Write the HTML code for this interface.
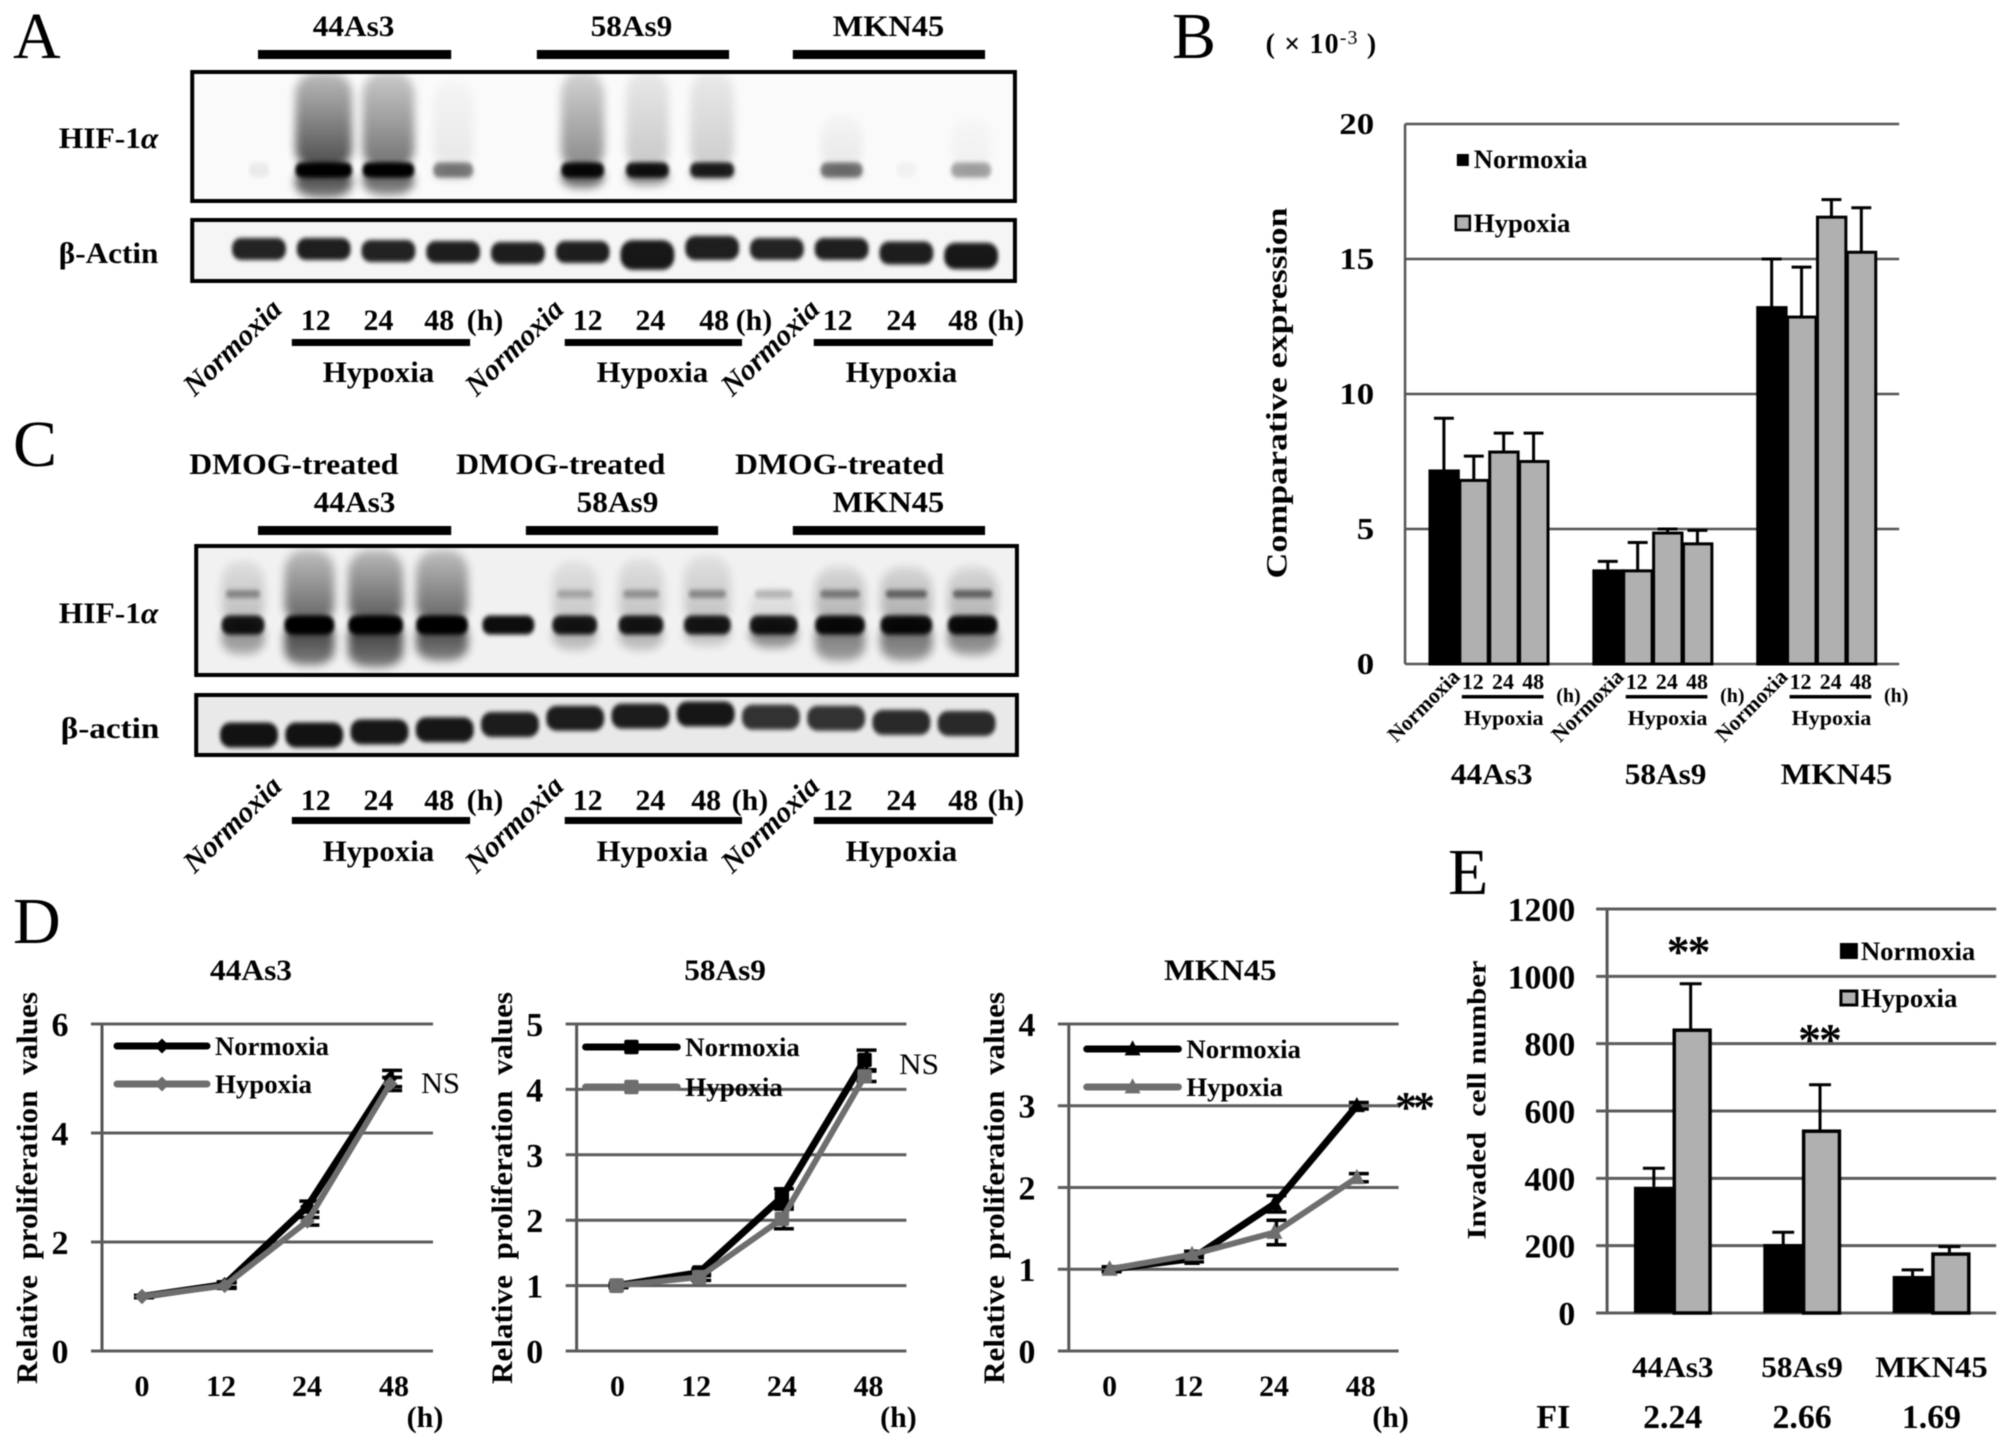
<!DOCTYPE html>
<html lang="en">
<head>
<meta charset="utf-8">
<title>HIF-1α expression, proliferation and invasion figure</title>
<style>
html,body{margin:0;padding:0;background:#fff;width:2008px;height:1443px;overflow:hidden}
svg{display:block;filter:blur(0.4px)}
text{font-family:"Liberation Serif",serif;fill:#000}
.b{font-weight:700}
.letter{font-size:66px}
.t30{font-size:30px;font-weight:700}
.t26{font-size:26px;font-weight:700}
.t34{font-size:34px;font-weight:700}
.ni{font-size:30px;font-weight:700;font-style:italic}
.nb{font-size:22px;font-weight:700}
</style>
</head>
<body>
<svg id="figure" xmlns="http://www.w3.org/2000/svg" width="2008" height="1443" viewBox="0 0 2008 1443">
<defs>
<filter id="blur5" x="-50%" y="-50%" width="200%" height="200%"><feGaussianBlur stdDeviation="4.5"/></filter>
<filter id="blur2" x="-50%" y="-100%" width="200%" height="300%"><feGaussianBlur stdDeviation="2"/></filter>
<linearGradient id="fade-up" x1="0" y1="0" x2="0" y2="1"><stop offset="0" stop-color="#000" stop-opacity="0.35"/><stop offset="1" stop-color="#000" stop-opacity="1"/></linearGradient>
<linearGradient id="fade-down" x1="0" y1="0" x2="0" y2="1"><stop offset="0" stop-color="#000" stop-opacity="1"/><stop offset="1" stop-color="#000" stop-opacity="0.6"/></linearGradient>
<clipPath id="clip-a-hif"><rect x="191" y="70" width="830" height="133"/></clipPath>
<clipPath id="clip-a-actin"><rect x="191" y="218" width="830" height="65"/></clipPath>
<clipPath id="clip-c-hif"><rect x="195" y="544" width="828" height="133"/></clipPath>
<clipPath id="clip-c-actin"><rect x="195" y="693" width="828" height="64"/></clipPath>
</defs>
<rect width="2008" height="1443" fill="#fff"/>

<text class="letter" x="13" y="58">A</text>
<text class="letter" x="1172" y="58">B</text>
<text class="letter" x="13" y="466">C</text>
<text class="letter" x="13" y="943">D</text>
<text class="letter" x="1448" y="894">E</text>

<g transform="scale(0.996,1)">
<text class="t30" x="355" y="36" text-anchor="middle" textLength="82" lengthAdjust="spacingAndGlyphs">44As3</text>
<text class="t30" x="634" y="36" text-anchor="middle" textLength="82" lengthAdjust="spacingAndGlyphs">58As9</text>
<text class="t30" x="892" y="36" text-anchor="middle" textLength="112" lengthAdjust="spacingAndGlyphs">MKN45</text>
<rect x="259" y="50" width="194" height="9"/>
<rect x="539" y="50" width="193" height="9"/>
<rect x="796" y="50" width="193" height="9"/>
<text class="t30" x="59" y="148" textLength="100" lengthAdjust="spacingAndGlyphs">HIF-1<tspan font-style="italic">α</tspan></text>
<text class="t30" x="59" y="263" textLength="100" lengthAdjust="spacingAndGlyphs">β-Actin</text>
<text class="ni" transform="translate(233,347) rotate(-44)" y="10" text-anchor="middle" textLength="124" lengthAdjust="spacingAndGlyphs">Normoxia</text>
<text class="ni" transform="translate(516,347) rotate(-44)" y="10" text-anchor="middle" textLength="124" lengthAdjust="spacingAndGlyphs">Normoxia</text>
<text class="ni" transform="translate(773,347) rotate(-44)" y="10" text-anchor="middle" textLength="124" lengthAdjust="spacingAndGlyphs">Normoxia</text>
<text class="t30" x="317" y="330" text-anchor="middle">12</text>
<text class="t30" x="380" y="330" text-anchor="middle">24</text>
<text class="t30" x="441" y="330" text-anchor="middle">48</text>
<text class="t30" x="487" y="330" text-anchor="middle">(h)</text>
<text class="t30" x="590" y="330" text-anchor="middle">12</text>
<text class="t30" x="653" y="330" text-anchor="middle">24</text>
<text class="t30" x="717" y="330" text-anchor="middle">48</text>
<text class="t30" x="757" y="330" text-anchor="middle">(h)</text>
<text class="t30" x="841" y="330" text-anchor="middle">12</text>
<text class="t30" x="905" y="330" text-anchor="middle">24</text>
<text class="t30" x="967" y="330" text-anchor="middle">48</text>
<text class="t30" x="1010" y="330" text-anchor="middle">(h)</text>
<rect x="293" y="339" width="179" height="7"/>
<rect x="567" y="339" width="178" height="7"/>
<rect x="817" y="339" width="180" height="7"/>
<text class="t30" x="380" y="382" text-anchor="middle" textLength="112" lengthAdjust="spacingAndGlyphs">Hypoxia</text>
<text class="t30" x="655" y="382" text-anchor="middle" textLength="112" lengthAdjust="spacingAndGlyphs">Hypoxia</text>
<text class="t30" x="905" y="382" text-anchor="middle" textLength="112" lengthAdjust="spacingAndGlyphs">Hypoxia</text>
</g>

<g transform="scale(0.996,1)">
<text class="t30" x="295" y="474" text-anchor="middle" textLength="210" lengthAdjust="spacingAndGlyphs">DMOG-treated</text>
<text class="t30" x="563" y="474" text-anchor="middle" textLength="210" lengthAdjust="spacingAndGlyphs">DMOG-treated</text>
<text class="t30" x="843" y="474" text-anchor="middle" textLength="210" lengthAdjust="spacingAndGlyphs">DMOG-treated</text>
<text class="t30" x="356" y="512" text-anchor="middle" textLength="82" lengthAdjust="spacingAndGlyphs">44As3</text>
<text class="t30" x="620" y="512" text-anchor="middle" textLength="82" lengthAdjust="spacingAndGlyphs">58As9</text>
<text class="t30" x="892" y="512" text-anchor="middle" textLength="112" lengthAdjust="spacingAndGlyphs">MKN45</text>
<rect x="259" y="526" width="194" height="9"/>
<rect x="528" y="526" width="193" height="9"/>
<rect x="796" y="526" width="193" height="9"/>
<text class="t30" x="59" y="623" textLength="100" lengthAdjust="spacingAndGlyphs">HIF-1<tspan font-style="italic">α</tspan></text>
<text class="t30" x="61" y="738" textLength="99" lengthAdjust="spacingAndGlyphs">β-actin</text>
<text class="ni" transform="translate(233,824) rotate(-44)" y="10" text-anchor="middle" textLength="124" lengthAdjust="spacingAndGlyphs">Normoxia</text>
<text class="ni" transform="translate(516,824) rotate(-44)" y="10" text-anchor="middle" textLength="124" lengthAdjust="spacingAndGlyphs">Normoxia</text>
<text class="ni" transform="translate(773,824) rotate(-44)" y="10" text-anchor="middle" textLength="124" lengthAdjust="spacingAndGlyphs">Normoxia</text>
<text class="t30" x="317" y="810" text-anchor="middle">12</text>
<text class="t30" x="380" y="810" text-anchor="middle">24</text>
<text class="t30" x="441" y="810" text-anchor="middle">48</text>
<text class="t30" x="487" y="810" text-anchor="middle">(h)</text>
<text class="t30" x="590" y="810" text-anchor="middle">12</text>
<text class="t30" x="653" y="810" text-anchor="middle">24</text>
<text class="t30" x="709" y="810" text-anchor="middle">48</text>
<text class="t30" x="753" y="810" text-anchor="middle">(h)</text>
<text class="t30" x="841" y="810" text-anchor="middle">12</text>
<text class="t30" x="905" y="810" text-anchor="middle">24</text>
<text class="t30" x="967" y="810" text-anchor="middle">48</text>
<text class="t30" x="1010" y="810" text-anchor="middle">(h)</text>
<rect x="293" y="817" width="179" height="7"/>
<rect x="567" y="817" width="178" height="7"/>
<rect x="817" y="817" width="180" height="7"/>
<text class="t30" x="380" y="861" text-anchor="middle" textLength="112" lengthAdjust="spacingAndGlyphs">Hypoxia</text>
<text class="t30" x="655" y="861" text-anchor="middle" textLength="112" lengthAdjust="spacingAndGlyphs">Hypoxia</text>
<text class="t30" x="905" y="861" text-anchor="middle" textLength="112" lengthAdjust="spacingAndGlyphs">Hypoxia</text>
</g>

<g id="blots" transform="scale(0.996,1)"></g>

<g id="panel-b" transform="translate(4.4,0) scale(0.9962,1)">
<text x="1266" y="53" font-size="28" font-weight="700" textLength="111" lengthAdjust="spacing">( × 10<tspan font-size="20" dy="-9" font-weight="400">-3</tspan><tspan dy="9"> )</tspan></text>
<text class="t30" transform="translate(1277,393) rotate(-90)" y="10" text-anchor="middle" textLength="371" lengthAdjust="spacingAndGlyphs">Comparative expression</text>
<rect x="1458" y="154" width="12" height="12"/>
<text class="t26" x="1475" y="168" textLength="114" lengthAdjust="spacingAndGlyphs">Normoxia</text>
<rect x="1457" y="216" width="14" height="14" fill="#b0b0b0" stroke="#000" stroke-width="2.5"/>
<text class="t26" x="1475" y="232" textLength="97" lengthAdjust="spacingAndGlyphs">Hypoxia</text>
</g>

<g id="panel-d">
<text x="421" y="1093" font-size="30" textLength="39" lengthAdjust="spacingAndGlyphs">NS</text>
<text x="899" y="1074" font-size="30" textLength="40" lengthAdjust="spacingAndGlyphs">NS</text>
<text x="1395" y="1122" font-size="44" font-weight="700" textLength="40" lengthAdjust="spacing">**</text>
</g>

<g id="panel-e" transform="translate(6.96,0) scale(0.9951,1)">
<text class="t26" transform="translate(1477,1100) rotate(-90)" y="9" text-anchor="middle" textLength="279" lengthAdjust="spacingAndGlyphs">Invaded&#160; cell number</text>
<rect x="1842" y="943" width="18" height="16"/>
<text class="t26" x="1863" y="960" textLength="115" lengthAdjust="spacingAndGlyphs">Normoxia</text>
<rect x="1843" y="991" width="16" height="14" fill="#b0b0b0" stroke="#000" stroke-width="3"/>
<text class="t26" x="1863" y="1007" textLength="97" lengthAdjust="spacingAndGlyphs">Hypoxia</text>
<text x="1668" y="967" font-size="46" font-weight="700" textLength="44" lengthAdjust="spacing">**</text>
<text x="1800" y="1055" font-size="46" font-weight="700" textLength="44" lengthAdjust="spacing">**</text>
<text class="t34" x="1554" y="1428" text-anchor="middle">FI</text>
</g>
</svg>

<script>
/* ---------- Panel B data ---------- */
const bCategories = ['44As3', '58As9', 'MKN45'];
const bHours = ['12', '24', '48'];
const bTicks = [0, 5, 10, 15, 20];
const bValues44 = [7.15, 6.8, 7.85, 7.5];
const bValues58 = [3.45, 3.45, 4.85, 4.45];
const bValuesMkn = [13.2, 12.85, 16.55, 15.25];
const bUpper44 = [9.1, 7.7, 8.55, 8.55];
const bUpper58 = [3.8, 4.5, 5.0, 4.95];
const bUpperMkn = [15.0, 14.7, 17.2, 16.9];

/* ---------- Panel D data ---------- */
const dHours = ['0', '12', '24', '48'];
const d1Ticks = [0, 2, 4, 6];
const d1Normoxia = [1, 1.22, 2.65, 5.0];
const d1Hypoxia = [1, 1.2, 2.38, 4.9];
const d1NormoxiaErr = [0.02, 0.05, 0.1, 0.15];
const d1HypoxiaErr = [0.02, 0.05, 0.07, 0.12];
const d2Ticks = [0, 1, 2, 3, 4, 5];
const d2Normoxia = [1, 1.2, 2.35, 4.45];
const d2Hypoxia = [1, 1.13, 2.02, 4.2];
const d2NormoxiaErr = [0.03, 0.05, 0.13, 0.15];
const d2HypoxiaErr = [0.03, 0.05, 0.15, 0.08];
const d3Ticks = [0, 1, 2, 3, 4];
const d3Normoxia = [1, 1.13, 1.8, 3.0];
const d3Hypoxia = [1, 1.18, 1.45, 2.12];
const d3NormoxiaErr = [0.03, 0.04, 0.1, 0.04];
const d3HypoxiaErr = [0.03, 0.04, 0.15, 0.05];

/* ---------- Panel E data ---------- */
const eCategories = ['44As3', '58As9', 'MKN45'];
const eFoldIncrease = ['2.24', '2.66', '1.69'];
const eTicks = [0, 200, 400, 600, 800, 1000, 1200];
const eNormoxia = [375, 205, 110];
const eHypoxia = [840, 540, 175];
const eNormoxiaUpper = [430, 240, 128];
const eHypoxiaUpper = [978, 678, 197];

/* ---------- Blot densitometry (relative darkness / extent per lane) ---------- */
const aHifBand = [0.06, 1, 1, 0.45, 0, 0.95, 0.9, 0.85, 0, 0.5, 0.03, 0.32];
const aHifUpper = [0, 0.7, 0.55, 0.07, 0, 0.45, 0.2, 0.18, 0, 0.07, 0, 0.04];
const aHifLower = [0, 0.8, 0.7, 0.2, 0, 0.75, 0.6, 0.45, 0, 0.2, 0.02, 0.08];
const aHifReachUp = [0, 1, 1, 0.9, 0, 1, 1, 1, 0, 0.55, 0, 0.55];
const aHifReachDown = [0, 1, 0.9, 0.35, 0, 0.65, 0.55, 0.35, 0, 0.35, 0, 0.35];
const aHifWidth = [0.4, 1.14, 1.04, 0.8, 0, 0.86, 0.86, 0.88, 0, 0.84, 0.4, 0.8];
const aActinBand = [0.86, 0.88, 0.86, 0.88, 0.88, 0.88, 0.9, 0.88, 0.86, 0.88, 0.88, 0.9];
const aActinDrift = [0, 0, 0.1, 0.15, 0.2, 0.15, 0.3, -0.05, 0, 0, 0.2, 0.35];
const aActinHeight = [1, 1, 1, 1, 1, 1, 1.35, 1.1, 1, 1, 1.05, 1.2];
const cHifBand = [0.9, 1, 1, 1, 0.95, 0.9, 0.9, 0.9, 0.9, 0.95, 0.95, 0.95];
const cHifUpper = [0.22, 0.6, 0.65, 0.6, 0, 0.18, 0.2, 0.2, 0.12, 0.28, 0.3, 0.28];
const cHifLower = [0.45, 0.78, 0.8, 0.75, 0, 0.3, 0.3, 0.25, 0.55, 0.55, 0.6, 0.55];
const cHifReachUp = [0.85, 1, 1, 1, 0, 0.85, 0.88, 0.92, 0.5, 0.78, 0.78, 0.78];
const cHifReachDown = [0.7, 0.95, 1, 0.85, 0, 0.6, 0.6, 0.5, 0.55, 0.85, 0.85, 0.72];
const cHifWidth = [0.86, 1, 1.1, 1.04, 1.04, 0.9, 0.9, 0.94, 0.96, 1, 1.04, 1];
const cHifDoublet = [0.35, 0, 0, 0, 0, 0.22, 0.3, 0.35, 0.2, 0.4, 0.5, 0.5];
const cActinBand = [0.92, 0.92, 0.9, 0.9, 0.88, 0.88, 0.88, 0.9, 0.78, 0.78, 0.82, 0.82];
const cActinDrift = [1, 1, 0.85, 0.75, 0.5, 0.2, 0.1, 0, 0.15, 0.2, 0.4, 0.45];

const svgNS = 'http://www.w3.org/2000/svg';
function mk(tag, attrs, parent) {
  const el = document.createElementNS(svgNS, tag);
  for (const k in attrs) el.setAttribute(k, attrs[k]);
  parent.appendChild(el);
  return el;
}

/* ---------- Blots ---------- */
const blots = document.getElementById('blots');
function drawBlot(opt) {
  const box = mk('g', {}, blots);
  
  
  const bg = mk('rect', {x: opt.x, y: opt.y, width: opt.w, height: opt.h, fill: opt.bg}, box);
  
  
  const lanes = mk('g', {'clip-path': 'url(#' + opt.clip + ')'}, box);
  
  
  opt.band.forEach(function (d, i) {
    const cx = opt.x0 + opt.dx * i;
    const cy = opt.yBand + (opt.drift ? opt.drift[i] * opt.driftPx : 0);
    const w = opt.laneW * (opt.width ? opt.width[i] : 1);
    const h = opt.bandH * (opt.height ? opt.height[i] : 1);
    if (opt.upper && opt.upper[i] > 0) {
      const hUp = opt.up * opt.reachUp[i];
      const up = mk('rect', {x: cx - w / 2, y: cy - hUp, width: w, height: hUp, rx: w / 2.6, ry: 22, fill: 'url(#fade-up)', opacity: opt.upper[i], filter: 'url(#blur5)'}, lanes);
      
      
    }
    if (opt.lower && opt.lower[i] > 0) {
      const hDn = opt.down * opt.reachDown[i];
      const dn = mk('rect', {x: cx - w / 2, y: cy - 3, width: w, height: hDn + 3, rx: w / 2.6, ry: 14, fill: 'url(#fade-down)', opacity: opt.lower[i], filter: 'url(#blur5)'}, lanes);
      
      
    }
    if (opt.doublet && opt.doublet[i] > 0) {
      const db = mk('rect', {x: cx - w * 0.4, y: cy - 35, width: w * 0.8, height: 8, rx: 4, fill: '#000', opacity: opt.doublet[i], filter: 'url(#blur2)'}, lanes);
      
      
    }
    if (d > 0) {
      const band = mk('rect', {x: cx - w / 2, y: cy - h / 2, width: w, height: h, rx: h * 0.42, fill: '#000', opacity: d, filter: 'url(#blur2)'}, lanes);
      
      
    }
  });
  const frame = mk('rect', {x: opt.x + 2, y: opt.y + 2, width: opt.w - 4, height: opt.h - 4, fill: 'none', stroke: '#000', 'stroke-width': 4}, box);
  
  
}
drawBlot({name: 'a-hif-blot', clip: 'clip-a-hif', x: 191, y: 70, w: 830, h: 133, bg: '#fafafa', x0: 260, dx: 65, laneW: 50, yBand: 170, bandH: 15, band: aHifBand, upper: aHifUpper, lower: aHifLower, reachUp: aHifReachUp, reachDown: aHifReachDown, width: aHifWidth, up: 98, down: 28});
drawBlot({name: 'a-actin-blot', clip: 'clip-a-actin', x: 191, y: 218, w: 830, h: 65, bg: '#f5f5f5', x0: 260, dx: 65, laneW: 54, yBand: 249, bandH: 22, band: aActinBand, drift: aActinDrift, driftPx: 20, height: aActinHeight});
drawBlot({name: 'c-hif-blot', clip: 'clip-c-hif', x: 195, y: 544, w: 828, h: 133, bg: '#f1f1f1', x0: 244, dx: 66.6, laneW: 50, yBand: 625, bandH: 19, band: cHifBand, upper: cHifUpper, lower: cHifLower, reachUp: cHifReachUp, reachDown: cHifReachDown, width: cHifWidth, doublet: cHifDoublet, up: 75, down: 42});
drawBlot({name: 'c-actin-blot', clip: 'clip-c-actin', x: 195, y: 693, w: 828, h: 64, bg: '#e9e9e9', x0: 250, dx: 65.5, laneW: 58, yBand: 714, bandH: 25, band: cActinBand, drift: cActinDrift, driftPx: 21});

/* ---------- Shared text helper ---------- */
function label(parent, x, y, str, size, anchor, len) {
  const t = mk('text', {x: x, y: y, 'font-size': size, 'font-weight': 700, 'text-anchor': anchor}, parent);
  if (len) {
    t.setAttribute('textLength', len);
    t.setAttribute('lengthAdjust', 'spacingAndGlyphs');
  }
  t.textContent = str;
  return t;
}

/* ---------- Panel B ---------- */
const panelB = document.getElementById('panel-b');
function bY(v) { return 664 - v * 27; }
function bGroupX(g) { return 1430 + 164.5 * g; }
const bX0 = 1406, bX1 = 1902;
const bAxis = mk('line', {x1: bX0, x2: bX0, y1: bY(20), y2: bY(0), stroke: '#555', 'stroke-width': 2.5}, panelB);


bTicks.forEach(function (v) {
  const g = mk('line', {x1: bX0, x2: bX1, y1: bY(v), y2: bY(v), stroke: '#555', 'stroke-width': 2.6}, panelB);
  
  
  const s = String(v);
  const t = label(panelB, 1375, bY(v) + 10, s, 31, 'end', s.length * 17.5);
  
  
});
[bValues44, bValues58, bValuesMkn].forEach(function (vals, g) {
  const ups = [bUpper44, bUpper58, bUpperMkn][g];
  const gx = bGroupX(g);
  vals.forEach(function (v, i) {
    const x = gx + i * 30;
    const ex = x + 15;
    const e = mk('path', {d: 'M' + ex + ' ' + bY(v) + 'V' + bY(ups[i]) + 'M' + (ex - 10) + ' ' + bY(ups[i]) + 'H' + (ex + 10), stroke: '#000', 'stroke-width': 3, fill: 'none'}, panelB);
    
    
    const r = mk('rect', {x: x + 1, y: bY(v), width: 28.5, height: bY(0) - bY(v), fill: i === 0 ? '#000' : '#b0b0b0', stroke: '#000', 'stroke-width': 3}, panelB);
    
    
  });
  const n = label(panelB, 0, 8, 'Normoxia', 22, 'middle', 92);
  n.setAttribute('transform', 'translate(' + (gx - 6) + ',705) rotate(-45)');
  
  
  bHours.forEach(function (h, i) {
    const t = label(panelB, gx + 44 + i * 30.3, 689, h, 22, 'middle');
    
    
  });
  const b = mk('rect', {x: gx + 33, y: 695, width: 82, height: 3.5}, panelB);
  
  
  const hy = label(panelB, gx + 75, 725, 'Hypoxia', 21, 'middle', 80);
  
  
  const u = label(panelB, gx + 140, 702, '(h)', 20, 'middle');
  
  
  const c = label(panelB, gx + 63 + (g === 2 ? 17 : g === 1 ? 10 : 0), 784, bCategories[g], 30, 'middle', g === 2 ? 112 : 82);
  
  
});

/* ---------- Panel D ---------- */
const panelD = document.getElementById('panel-d');
function marker(shape, x, y, color, r, parent) {
  let el;
  if (shape === 'diamond') {
    el = mk('polygon', {points: [x, y - r, x + r, y, x, y + r, x - r, y].join(' '), fill: color}, parent);
  } else if (shape === 'square') {
    el = mk('rect', {x: x - r * 0.85, y: y - r * 0.85, width: r * 1.7, height: r * 1.7, rx: 2, fill: color}, parent);
  } else {
    el = mk('polygon', {points: [x, y - r * 1.1, x + r, y + r * 0.8, x - r, y + r * 0.8].join(' '), fill: color}, parent);
  }
  return el;
}
function linePanel(o) {
  const root = mk('g', {}, panelD);
  if (o.fit) root.setAttribute('transform', o.fit);
  
  
  const maxV = o.ticks[o.ticks.length - 1];
  const y = function (v) { return 1351 - v * (327 / maxV); };
  const x = function (i) { return o.xPts0 + o.xStep * i; };
  const ax = mk('line', {x1: o.axisX, x2: o.axisX, y1: y(maxV), y2: y(0), stroke: '#555', 'stroke-width': 3}, root);
  
  
  o.ticks.forEach(function (v) {
    const g = mk('line', {x1: o.axisX - 11, x2: o.axisX + 331, y1: y(v), y2: y(v), stroke: '#5c5c5c', 'stroke-width': 3}, root);
    
    
    const t = label(root, o.axisX - 42, y(v) + 12, String(v), 34, 'middle');
    
    
  });
  dHours.forEach(function (h, i) {
    const t = label(root, o.labelX[i], 1396, h, 30, 'middle');
    
    
  });
  const u = label(root, o.axisX + 323, 1427, '(h)', 30, 'middle');
  
  
  const ti = label(root, o.titleX, 980, o.title, 30, 'middle', o.title === 'MKN45' ? 113 : 82);
  
  
  const yt = label(root, 0, 10, 'Relative\u00A0\u00A0proliferation\u00A0\u00A0values', 30, 'middle', 392);
  yt.setAttribute('transform', 'translate(' + (o.axisX - 75) + ',1188) rotate(-90)');
  
  
  [[o.nErr, o.n], [o.hErr, o.h]].forEach(function (pair) {
    pair[1].forEach(function (v, i) {
      const e = pair[0][i];
      const px = x(i) + 2;
      const eb = mk('path', {d: 'M' + px + ' ' + y(v + e) + 'V' + y(v - e) + 'M' + (px - 10) + ' ' + y(v + e) + 'H' + (px + 10) + 'M' + (px - 10) + ' ' + y(v - e) + 'H' + (px + 10), stroke: '#000', 'stroke-width': 3.5, fill: 'none'}, root);
      
      
    });
  });
  [[o.n, '#000', 7, 'normoxia'], [o.h, '#6e6e6e', 6, 'hypoxia']].forEach(function (s) {
    const pts = s[0].map(function (v, i) { return x(i) + ',' + y(v); }).join(' ');
    const l = mk('polyline', {points: pts, fill: 'none', stroke: s[1], 'stroke-width': s[2], 'stroke-linejoin': 'round'}, root);
    
    
    s[0].forEach(function (v, i) {
      const m = marker(o.shape, x(i), y(v), s[1], o.markerR, root);
      
      
    });
  });
  [[o.legY[0], '#000', 7, 'Normoxia', o.legLen[0], 'normoxia'], [o.legY[1], '#6e6e6e', 7, 'Hypoxia', o.legLen[1], 'hypoxia']].forEach(function (s) {
    const l = mk('line', {x1: o.legX, x2: o.legX + o.legW, y1: s[0], y2: s[0], stroke: s[1], 'stroke-width': s[2], 'stroke-linecap': 'round'}, root);
    
    
    const m = marker(o.shape, o.legX + o.legW / 2, s[0], s[1], o.markerR, root);
    
    
    const t = label(root, o.legX + o.legW + 8, s[0] + 9, s[3], 26, 'start', s[4]);
    
    
  });
}
linePanel({name: 'd-chart-44as3', title: '44As3', titleX: 251, axisX: 102, shape: 'diamond', markerR: 7.5, ticks: d1Ticks, n: d1Normoxia, h: d1Hypoxia, nErr: d1NormoxiaErr, hErr: d1HypoxiaErr, xPts0: 142, xStep: 82.7, labelX: [142, 221, 307, 394], legX: 117, legW: 90, legY: [1046, 1084], legLen: [114, 97]});
linePanel({name: 'd-chart-58as9', fit: 'translate(1.77,0) scale(0.9963,1)', title: '58As9', titleX: 726, axisX: 577, shape: 'square', markerR: 8.5, ticks: d2Ticks, n: d2Normoxia, h: d2Hypoxia, nErr: d2NormoxiaErr, hErr: d2HypoxiaErr, xPts0: 617, xStep: 83, labelX: [618, 697, 783, 870], legX: 586, legW: 92, legY: [1047, 1087], legLen: [115, 98]});
linePanel({name: 'd-chart-mkn45', fit: 'translate(1.77,0) scale(0.9963,1)', title: 'MKN45', titleX: 1223, axisX: 1071, shape: 'triangle', markerR: 8, ticks: d3Ticks, n: d3Normoxia, h: d3Hypoxia, nErr: d3NormoxiaErr, hErr: d3HypoxiaErr, xPts0: 1112, xStep: 82.7, labelX: [1112, 1191, 1277, 1364], legX: 1089, legW: 92, legY: [1049, 1087], legLen: [115, 97]});

/* ---------- Panel E ---------- */
const panelE = document.getElementById('panel-e');
function eY(v) { return 1313 - v * (404 / 1200); }
function eGroupX(g) { return 1635 + 130 * g; }
const eAxis = mk('line', {x1: 1608, x2: 1608, y1: eY(1200), y2: eY(0), stroke: '#555', 'stroke-width': 3}, panelE);


eTicks.forEach(function (v) {
  const g = mk('line', {x1: 1597, x2: 1999, y1: eY(v), y2: eY(v), stroke: '#5c5c5c', 'stroke-width': 3}, panelE);
  
  
  const t = label(panelE, 1576, eY(v) + 12, String(v), 34, 'end');
  
  
});
eCategories.forEach(function (c, g) {
  const gx = eGroupX(g);
  const ex1 = gx + 20, ex2 = gx + 57;
  const e1 = mk('path', {d: 'M' + ex1 + ' ' + eY(eNormoxia[g]) + 'V' + eY(eNormoxiaUpper[g]) + 'M' + (ex1 - 11) + ' ' + eY(eNormoxiaUpper[g]) + 'H' + (ex1 + 11), stroke: '#000', 'stroke-width': 3, fill: 'none'}, panelE);
  
  
  const e2 = mk('path', {d: 'M' + ex2 + ' ' + eY(eHypoxia[g]) + 'V' + eY(eHypoxiaUpper[g]) + 'M' + (ex2 - 11) + ' ' + eY(eHypoxiaUpper[g]) + 'H' + (ex2 + 11), stroke: '#000', 'stroke-width': 3, fill: 'none'}, panelE);
  
  
  const r1 = mk('rect', {x: gx, y: eY(eNormoxia[g]), width: 39, height: eY(0) - eY(eNormoxia[g]), fill: '#000'}, panelE);
  
  
  const r2 = mk('rect', {x: gx + 39 + 1.5, y: eY(eHypoxia[g]), width: 36, height: eY(0) - eY(eHypoxia[g]), fill: '#b0b0b0', stroke: '#000', 'stroke-width': 3.5}, panelE);
  
  
  const t = label(panelE, gx + 39, 1377, c, 30, 'middle', c === 'MKN45' ? 113 : 82);
  
  
  const f = label(panelE, gx + 39, 1428, eFoldIncrease[g], 34, 'middle');
  
  
});
</script>
</body>
</html>
